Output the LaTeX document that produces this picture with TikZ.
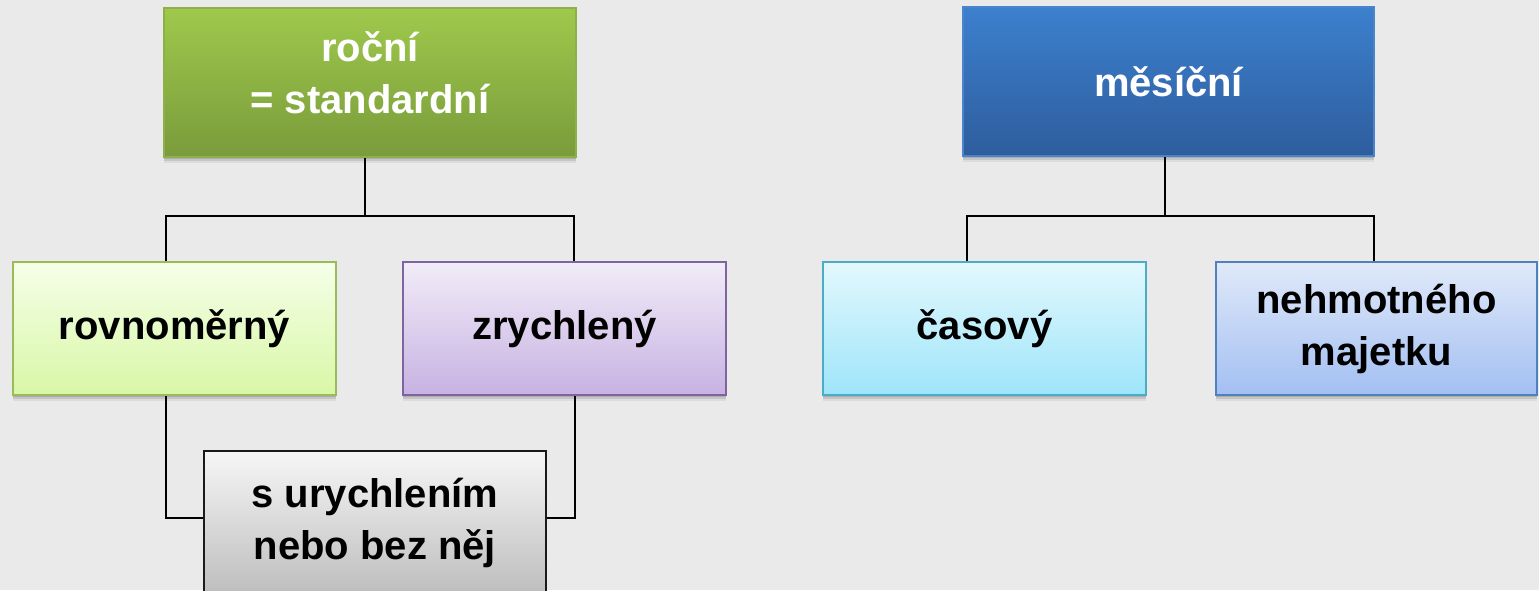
\documentclass[tikz,border=0pt]{standalone}
\usepackage{fontspec}
\setmainfont{Liberation Sans}
\usetikzlibrary{shadows}
\definecolor{bg}{HTML}{EAEAEA}
\definecolor{grTop}{HTML}{9EC94C}
\definecolor{grBot}{HTML}{7A9B3B}
\definecolor{grLine}{HTML}{8DB04B}
\definecolor{lgTop}{HTML}{F5FFE9}
\definecolor{lgBot}{HTML}{D8F7A6}
\definecolor{lgLine}{HTML}{9BBB59}
\definecolor{lvTop}{HTML}{F1ECF8}
\definecolor{lvBot}{HTML}{C7B2E2}
\definecolor{lvLine}{HTML}{8064A2}
\definecolor{gyTop}{HTML}{F6F6F6}
\definecolor{gyBot}{HTML}{BDBDBD}
\definecolor{gyLine}{HTML}{1A1A1A}
\definecolor{blTop}{HTML}{3C80CE}
\definecolor{blBot}{HTML}{2E5D9D}
\definecolor{blLine}{HTML}{4A84CA}
\definecolor{cyTop}{HTML}{E3F8FD}
\definecolor{cyBot}{HTML}{9EE5FA}
\definecolor{cyLine}{HTML}{4BACC6}
\definecolor{sbTop}{HTML}{E0E9F9}
\definecolor{sbBot}{HTML}{A3BFF2}
\definecolor{sbLine}{HTML}{4F81BD}
\tikzset{
  softshadow/.style={
    drop shadow={shadow xshift=0pt, shadow yshift=-2pt, opacity=0.12, fill=black},
    drop shadow={shadow xshift=0pt, shadow yshift=-4pt, opacity=0.10, fill=black},
    drop shadow={shadow xshift=0pt, shadow yshift=-6pt, opacity=0.06, fill=black}},
  box/.style={rectangle, line width=1.5pt, align=center, inner sep=0pt,
    font=\fontsize{40}{52}\selectfont\bfseries, softshadow},
  wide/.style={minimum width=412pt, minimum height=149pt},
  small/.style={minimum width=323pt, minimum height=133pt},
  link/.style={line width=1.6pt, black},
}
\begin{document}
\begin{tikzpicture}[x=1pt,y=-1pt]
  \fill[bg] (0,0) rectangle (1539,590);
  \useasboundingbox (0,0) rectangle (1539,590);

  % junction points of the connectors
  \coordinate (jl) at (365,216);
  \coordinate (jl1) at (166,216);
  \coordinate (jl2) at (574,216);
  \coordinate (jr) at (1165,216);
  \coordinate (jr1) at (967,216);
  \coordinate (jr2) at (1374,216);

  % connectors (drawn first, boxes sit on top)
  \draw[link] (365,150) -- (jl);
  \draw[link] (166,270) -- (jl1) -- (jl2) -- (574,270);
  \draw[link] (166,390) -- (166,518) -- (210,518);
  \draw[link] (575,390) -- (575,518) -- (540,518);
  \draw[link] (1165,150) -- (jr);
  \draw[link] (967,270) -- (jr1) -- (jr2) -- (1374,270);

  % boxes
  \node[box, wide, top color=grTop, bottom color=grBot, draw=grLine, text=white]
    (rocni) at (370,82.5)
    {\raisebox{10pt}[\height][\depth]{\parbox{400pt}{\centering roční\\= standardní}}};
  \node[box, small, top color=lgTop, bottom color=lgBot, draw=lgLine]
    (rovnom) at (174.5,328.5) {rovnoměrný};
  \node[box, small, top color=lvTop, bottom color=lvBot, draw=lvLine]
    (zrychl) at (564.5,328.5) {zrychlený};
  \node[box, minimum width=342pt, minimum height=144pt,
        top color=gyTop, bottom color=gyBot, draw=gyLine]
    (urychl) at (375,523) {s urychlením\\nebo bez něj};
  \node[box, wide, minimum width=411pt, top color=blTop, bottom color=blBot,
        draw=blLine, text=white]
    (mesicni) at (1168.5,81.5) {měsíční};
  \node[box, small, top color=cyTop, bottom color=cyBot, draw=cyLine]
    (casovy) at (984.5,328.5) {časový};
  \node[box, small, minimum width=321pt, top color=sbTop, bottom color=sbBot,
        draw=sbLine]
    (nehmot) at (1376.5,328.5) {nehmotného\\majetku};
\end{tikzpicture}
\end{document}
